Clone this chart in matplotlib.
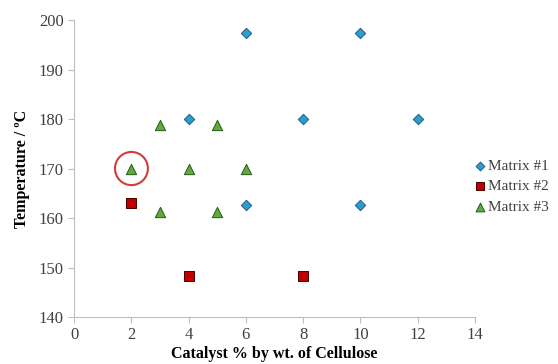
import matplotlib.pyplot as plt
from matplotlib.patches import Ellipse

plt.rcParams['font.family'] = 'serif'
plt.rcParams['font.serif'] = ['Liberation Serif', 'DejaVu Serif']

m1_x = [6, 10, 4, 8, 12, 6, 10]
m1_y = [197.3, 197.3, 180, 180, 180, 162.7, 162.7]
m2_x = [2, 4, 8]
m2_y = [163, 148.2, 148.2]
m3_x = [2, 3, 4, 5, 6, 3, 5]
m3_y = [170, 178.7, 170, 178.7, 170, 161.3, 161.3]
highlight = (2, 170)

fig = plt.figure(figsize=(5.58, 3.64), dpi=100)
ax = fig.add_axes([0.133, 0.129, 0.718, 0.816])

ax.scatter(m1_x, m1_y, marker='D', s=28, color='#2f9bd0', edgecolors='#1f5f80',
           linewidths=0.7, label='Matrix #1', zorder=3)
ax.scatter(m2_x, m2_y, marker='s', s=55, color='#c00000', edgecolors='#4a0000',
           linewidths=0.7, label='Matrix #2', zorder=3)
ax.scatter(m3_x, m3_y, marker='^', s=55, color='#5eab3a', edgecolors='#2a5a18',
           linewidths=0.7, label='Matrix #3', zorder=3)

# ring around the highlighted run
circ = Ellipse(highlight, width=1.15, height=6.7, fill=False, edgecolor='#d63a3a',
               linewidth=1.5, zorder=4)
ax.add_patch(circ)

ax.set_xlim(0, 14)
ax.set_ylim(140, 200)
ax.set_xticks(range(0, 15, 2))
ax.set_yticks(range(140, 201, 10))
for s in ['top', 'right']:
    ax.spines[s].set_visible(False)
for s in ['left', 'bottom']:
    ax.spines[s].set_color('#bfbfbf')
ax.tick_params(colors='#bfbfbf', labelcolor='#404040', labelsize=12, length=4)

ax.set_xlabel('Catalyst % by wt. of Cellulose', fontsize=11.5, fontweight='bold', labelpad=2)
ax.set_ylabel('Temperature / ºC', fontsize=11.5, fontweight='bold', labelpad=6)

ax.legend(loc='center left', bbox_to_anchor=(1.0, 0.44), frameon=False, fontsize=11,
          handlelength=0.7, handletextpad=0.15, labelspacing=0.45, borderaxespad=0,
          borderpad=0, labelcolor='#404040', markerscale=0.85)

fig.savefig('out.png', dpi=100)
